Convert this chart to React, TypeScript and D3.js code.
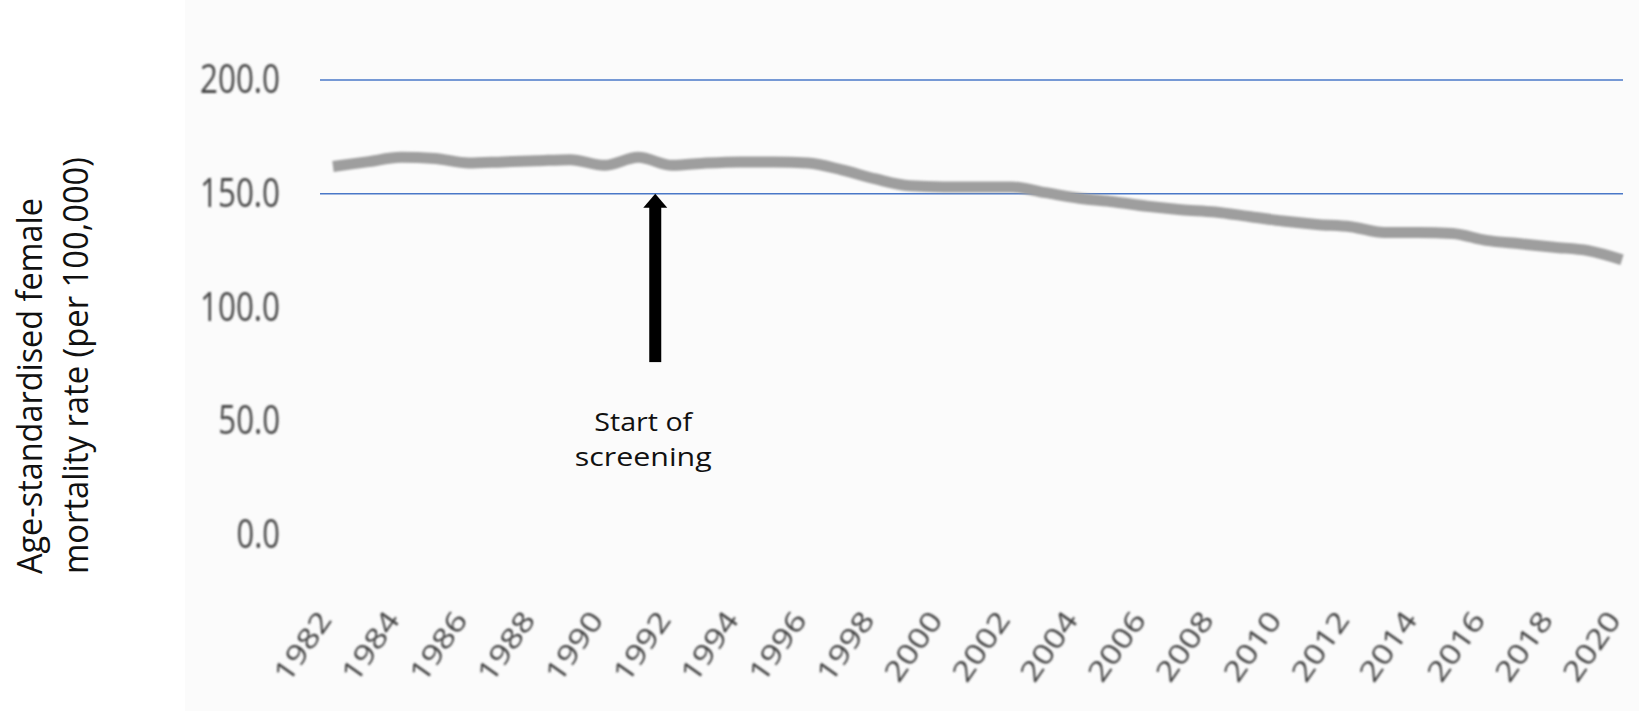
import React from "react";
import * as d3 from "d3";

// Age-standardised female mortality rate, per 100,000, by year
const years: number[] = d3.range(1982, 2021);
const rates: number[] = [
  162, 164, 166, 165.5, 163.5, 164, 164.5, 165, 162.5, 166,
  162.5, 163.5, 164, 164, 163.5, 160.5, 156.5, 153.5, 153, 153,
  153, 150.5, 148, 146.5, 144.5, 143, 142, 140, 138, 136.5,
  135.5, 133, 133, 132.5, 129.5, 128, 126.5, 125, 121,
];

const yTicks: number[] = [0, 50, 100, 150, 200];
const blueGridValues: number[] = [150, 200];
const xTickYears: number[] = d3.range(1982, 2021, 2);

const titleLines: string[] = [
  "Age-standardised female",
  "mortality rate (per 100,000)",
];
const annotationLines: string[] = ["Start of", "screening"];
const screeningYear = 1991.5;
const arrowTip = 150;
const arrowTail = 76;

const W = 1639;
const H = 711;

export default function App() {
  const x = d3.scaleLinear().domain([1982, 2020]).range([333, 1622]);
  const y = d3.scaleLinear().domain([0, 200]).range([535, 80]);

  const line = d3
    .line<number>()
    .x((_, i) => x(years[i]))
    .y((d) => y(d))
    .curve(d3.curveMonotoneX);

  const fmt = d3.format(".1f");
  const charW = (s: string) =>
    s.split("").reduce((a, c) => a + (c === "." ? 6.8 : 18.3), 0);

  const ax = x(screeningYear);
  const tipY = y(arrowTip);
  const tailY = y(arrowTail);
  const headH = 14;
  const headHalf = 12;
  const shaftHalf = 6;

  return (
    <svg
      width={W}
      height={H}
      style={{ position: "absolute", left: 0, top: 0, display: "block" }}
      fontFamily="'Open Sans', 'Noto Sans', sans-serif"
    >
      <defs>
        <filter id="soft" x="-5%" y="-20%" width="110%" height="140%">
          <feGaussianBlur stdDeviation="0.9" />
        </filter>
        <filter id="softer" x="-5%" y="-50%" width="110%" height="200%">
          <feGaussianBlur stdDeviation="1.2" />
        </filter>
      </defs>
      <rect x={0} y={0} width={W} height={H} fill="#ffffff" />
      <rect x={185} y={0} width={W - 185} height={H} fill="#fbfbfb" />

      {/* horizontal gridlines */}
      {yTicks.map((v) =>
        blueGridValues.includes(v) ? (
          <line
            key={v}
            x1={320}
            x2={1623}
            y1={y(v)}
            y2={y(v)}
            stroke="#4a78c8"
            strokeWidth={1.5}
          />
        ) : (
          <line
            key={v}
            x1={313}
            x2={1623}
            y1={y(v)}
            y2={y(v)}
            stroke="#d6d6d6"
            strokeWidth={3.5}
            filter="url(#softer)"
          />
        )
      )}

      {/* y tick labels */}
      <g fill="#444" fontSize={40} filter="url(#soft)">
        {yTicks.map((v) => {
          const s = fmt(v);
          return (
            <text
              key={v}
              x={280}
              y={y(v) + 13}
              textAnchor="end"
              textLength={charW(s)}
              lengthAdjust="spacingAndGlyphs"
            >
              {s}
            </text>
          );
        })}
      </g>

      {/* x tick labels */}
      <g fill="#404040" fontSize={28} filter="url(#soft)">
        {xTickYears.map((yr) => (
          <text
            key={yr}
            transform={`translate(${x(yr)},${620}) rotate(-55)`}
            textAnchor="end"
            textLength={78}
            lengthAdjust="spacingAndGlyphs"
          >
            {yr}
          </text>
        ))}
      </g>

      {/* data line */}
      <path
        d={line(rates) ?? ""}
        fill="none"
        stroke="#9e9e9e"
        strokeWidth={11}
        strokeLinejoin="round"
        strokeLinecap="butt"
        filter="url(#soft)"
      />

      {/* screening arrow */}
      <rect
        x={ax - shaftHalf}
        y={tipY + headH - 1}
        width={shaftHalf * 2}
        height={tailY - tipY - headH + 1}
        fill="#000"
      />
      <path
        d={`M${ax},${tipY} L${ax + headHalf},${tipY + headH} L${ax - headHalf},${tipY + headH} Z`}
        fill="#000"
      />
      <g fill="#111" fontSize={25} textAnchor="middle">
        <text x={ax - 12} y={431} textLength={98} lengthAdjust="spacingAndGlyphs">
          {annotationLines[0]}
        </text>
        <text x={ax - 12} y={466} textLength={137} lengthAdjust="spacingAndGlyphs">
          {annotationLines[1]}
        </text>
      </g>

      {/* y axis title */}
      <g fill="#111" fontSize={34}>
        <text
          transform="translate(42,574) rotate(-90)"
          textLength={376}
          lengthAdjust="spacingAndGlyphs"
        >
          {titleLines[0]}
        </text>
        <text
          transform="translate(88,574) rotate(-90)"
          textLength={417}
          lengthAdjust="spacingAndGlyphs"
        >
          {titleLines[1]}
        </text>
      </g>
    </svg>
  );
}
